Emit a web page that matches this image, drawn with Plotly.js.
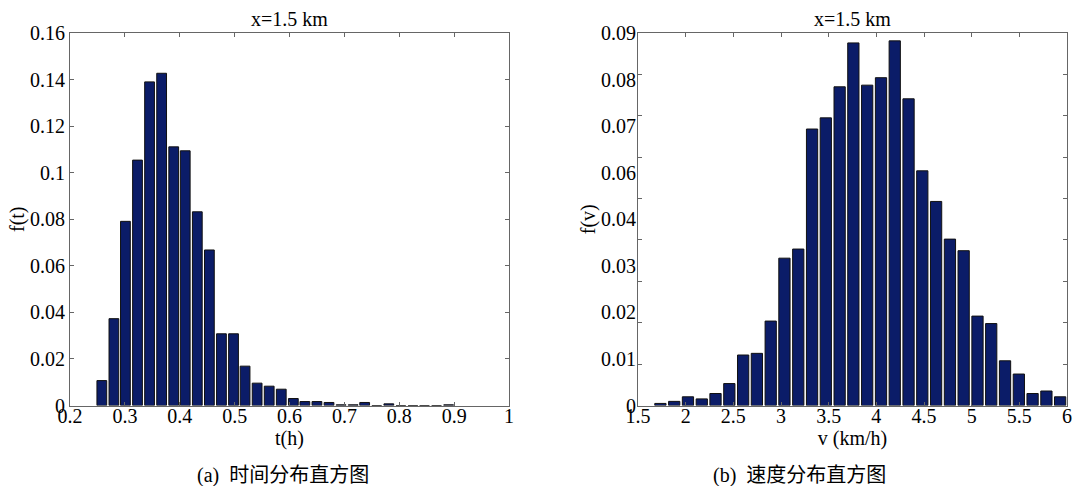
<!DOCTYPE html>
<html>
<head>
<meta charset="utf-8">
<script src="https://cdn.plot.ly/plotly-3.0.1.min.js"></script>
<style>html,body{margin:0;padding:0;background:#fff;}#chart{width:1075px;height:486px;}</style>
</head>
<body>
<div id="chart"></div>
<script>
// (a) travel-time histogram: bin centres (h) and relative frequency
const timeBins = [0.258, 0.280, 0.301, 0.323, 0.345, 0.367, 0.389, 0.410, 0.432, 0.454,
                  0.476, 0.498, 0.519, 0.541, 0.563, 0.585, 0.607, 0.628, 0.650, 0.672,
                  0.694, 0.716, 0.737, 0.759, 0.781, 0.803, 0.825, 0.846, 0.868, 0.890];
const timeFreq = [0.0107, 0.0373, 0.0791, 0.1054, 0.1390, 0.1427, 0.1111, 0.1094, 0.0832, 0.0668,
                  0.0308, 0.0308, 0.0169, 0.0096, 0.0083, 0.0070, 0.0030, 0.0017, 0.0017, 0.0013,
                  0.0003, 0.0003, 0.0013, 0.0000, 0.0007, 0.0000, 0.0000, 0.0000, 0.0000, 0.0003];
// (b) speed histogram: bin centres (km/h) and relative frequency
const speedBins = [1.735, 1.880, 2.024, 2.169, 2.313, 2.458, 2.603, 2.747, 2.892, 3.036,
                   3.181, 3.326, 3.470, 3.615, 3.759, 3.904, 4.049, 4.193, 4.338, 4.482,
                   4.627, 4.772, 4.916, 5.061, 5.205, 5.350, 5.495, 5.639, 5.784, 5.928];
const speedFreq = [0.0005, 0.0010, 0.0021, 0.0016, 0.0029, 0.0053, 0.0122, 0.0126, 0.0204, 0.0356,
                   0.0378, 0.0668, 0.0695, 0.0770, 0.0876, 0.0774, 0.0792, 0.0881, 0.0741, 0.0567,
                   0.0493, 0.0402, 0.0374, 0.0216, 0.0198, 0.0108, 0.0076, 0.0029, 0.0035, 0.0021];
// tick labels
const timeYTicks = [0, 0.02, 0.04, 0.06, 0.08, 0.1, 0.12, 0.14, 0.16];
const speedYLabels = ['0', '0.01', '0.02', '0.03', '0.04', '0.06', '0.07', '0.08', '0.09'];
const speedYLabelPos = [0, 1, 2, 3, 4, 5, 6, 7, 8];
const panelTitle = 'x=1.5 km';
const captionA = '(a)  时间分布直方图';
const captionB = '(b)  速度分布直方图';

const W = 1075, H = 486;
const px = v => v / W, py = v => 1 - v / H;
const serif = 'Liberation Serif';
const capFont = 'Liberation Serif, Noto Sans CJK SC';
const barColor = '#0b1c68';
const axisColor = '#666666';

const traces = [
  {type: 'bar', x: timeBins, y: timeFreq, xaxis: 'x', yaxis: 'y', width: 0.0178,
   marker: {color: barColor, line: {color: '#111111', width: 1}}, hoverinfo: 'x+y'},
  {type: 'bar', x: speedBins, y: speedFreq, xaxis: 'x2', yaxis: 'y2', width: 0.118,
   marker: {color: barColor, line: {color: '#111111', width: 1}}, hoverinfo: 'x+y'},
  // empty trace so the label axis of panel (b) is drawn
  {type: 'scatter', x: [], y: [], xaxis: 'x2', yaxis: 'y3', hoverinfo: 'skip'}
];

const baseAxis = {
  showgrid: false, zeroline: false, showline: true, linecolor: axisColor, linewidth: 1,
  mirror: 'ticks', ticks: 'inside', ticklen: 4, tickcolor: axisColor,
  tickfont: {family: serif, size: 20, color: '#000'}, fixedrange: true
};

const layout = {
  width: W, height: H,
  margin: {l: 0, r: 0, t: 0, b: 0},
  paper_bgcolor: '#fff', plot_bgcolor: '#fff',
  showlegend: false,
  bargap: 0,
  font: {family: serif, size: 20, color: '#000'},
  xaxis: Object.assign({}, baseAxis, {
    domain: [px(70), px(509)], anchor: 'y', range: [0.2, 1],
    tick0: 0.2, dtick: 0.1, ticklabelstandoff: -8,
    title: {text: 't(h)', font: {family: serif, size: 20}, standoff: 0}
  }),
  yaxis: Object.assign({}, baseAxis, {
    domain: [py(405.5), py(33)], anchor: 'x', range: [0, 0.16],
    tickvals: timeYTicks, ticklabelstandoff: 0,
    title: {text: 'f(t)', font: {family: serif, size: 20}, standoff: 0}
  }),
  xaxis2: Object.assign({}, baseAxis, {
    domain: [px(638), px(1067)], anchor: 'y2', range: [1.5, 6],
    tick0: 1.5, dtick: 0.5, ticklabelstandoff: -8,
    title: {text: 'v (km/h)', font: {family: serif, size: 20}, standoff: 0}
  }),
  yaxis2: Object.assign({}, baseAxis, {
    domain: [py(405.5), py(33)], anchor: 'x2', range: [0, 0.09],
    dtick: 0.01, showticklabels: false
  }),
  yaxis3: {
    overlaying: 'y2', anchor: 'x2', side: 'left', range: [0, 8],
    tickvals: speedYLabelPos, ticktext: speedYLabels,
    showline: false, showgrid: false, zeroline: false, ticks: '', fixedrange: true,
    ticklabelstandoff: 1,
    tickfont: {family: serif, size: 20, color: '#000'},
    title: {text: 'f(v)', font: {family: serif, size: 20}, standoff: 0}
  },
  annotations: [
    {text: panelTitle, xref: 'paper', yref: 'paper', x: px(289.5), y: py(19), xanchor: 'center', yanchor: 'middle',
     showarrow: false, font: {family: serif, size: 20, color: '#000'}},
    {text: panelTitle, xref: 'paper', yref: 'paper', x: px(852.5), y: py(19), xanchor: 'center', yanchor: 'middle',
     showarrow: false, font: {family: serif, size: 20, color: '#000'}},
    {text: captionA, xref: 'paper', yref: 'paper', x: px(283), y: py(475), xanchor: 'center', yanchor: 'middle',
     showarrow: false, font: {family: capFont, size: 20, color: '#000'}},
    {text: captionB, xref: 'paper', yref: 'paper', x: px(799), y: py(475), xanchor: 'center', yanchor: 'middle',
     showarrow: false, font: {family: capFont, size: 20, color: '#000'}}
  ]
};

Plotly.newPlot('chart', traces, layout, {staticPlot: true, displayModeBar: false});
</script>
</body>
</html>
